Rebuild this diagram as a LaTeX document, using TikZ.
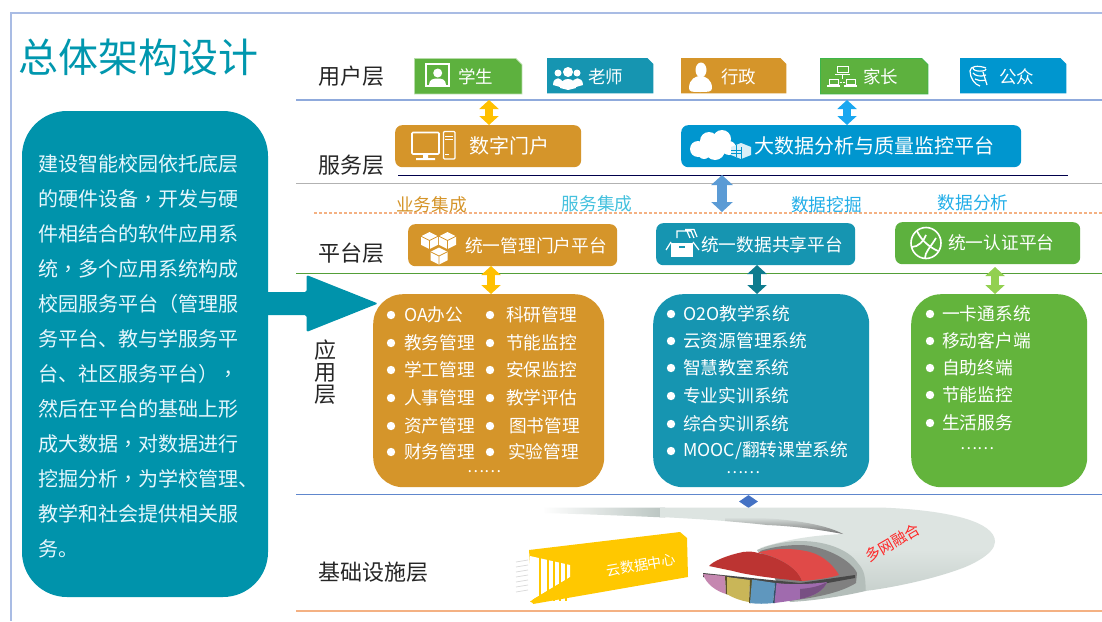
\documentclass[tikz,border=0pt]{standalone}
\usepackage{fontspec}
\setmainfont{Noto Sans CJK SC}
\newfontfamily\tcf{Noto Sans CJK TC}
\usetikzlibrary{arrows.meta,shapes.geometric,calc,fadings}
\definecolor{cGreen}{HTML}{5DB13E}
\definecolor{cTeal}{HTML}{1695B1}
\definecolor{cOrange}{HTML}{D5952A}
\definecolor{cBlue}{HTML}{0096CF}
\definecolor{cPanel}{HTML}{0093AB}
\definecolor{cTitle}{HTML}{0097AE}
\definecolor{cFrame}{HTML}{A9BCE4}
\definecolor{cLine}{HTML}{8FAADC}
\definecolor{cPeach}{HTML}{F4B183}
\definecolor{cDeep}{HTML}{4472C4}
\definecolor{cTop}{HTML}{AEBAB6}
\definecolor{cMid}{HTML}{DDE4E1}
\definecolor{cLow}{HTML}{BFC9C5}
\definecolor{cEdge}{HTML}{8A9693}
\pgfdeclareverticalshading{cablesh}{100bp}{color(0bp)=(cEdge); color(14bp)=(cLow); color(50bp)=(cMid); color(88bp)=(cMid); color(100bp)=(cTop)}
\newcommand\fs[1]{\fontsize{#1}{#1}\selectfont}
\newcommand\cm{{\tcf ，}}
\newcommand\lp{{\tcf （}}
\newcommand\rp{{\tcf ）}}
\newcommand\mycube[4]{% x y size colour
  \fill[white] (#1,#2-#3) -- (#1+#3,#2-#3/2) -- (#1+#3,#2+#3/2) -- (#1,#2+#3) -- (#1-#3,#2+#3/2) -- (#1-#3,#2-#3/2) -- cycle;
  \draw[#4,line width=.7pt] (#1-#3,#2-#3/2) -- (#1,#2) -- (#1+#3,#2-#3/2) (#1,#2) -- (#1,#2+#3);
}
% name, x, y, width, path options: a box with its top right corner cut off
\newcommand\tagbox[5]{%
  \node[tag,minimum width=#4pt] (#1) at (#2,#3) {};
  \path[#5] (#1.north west) -- ($(#1.north east)+(-6,0)$) -- ($(#1.north east)+(0,6)$) -- (#1.south east) -- (#1.south west) -- cycle;
}
\tikzset{
  x=1pt,y=-1pt,
  layer/.style={font=\fs{22},text=black!85,inner sep=0pt},
  tag/.style={rectangle,inner sep=0pt,minimum height=35pt,anchor=north west},
  tagtext/.style={font=\fs{17.5},text=white,inner sep=0pt,anchor=west},
  svc/.style={rounded corners=7pt,inner sep=0pt,anchor=north west},
  big/.style={rounded corners=30pt,inner sep=0pt,anchor=north west,minimum height=193pt},
  item/.style={font=\fs{17.7},text=white,inner sep=0pt,anchor=west},
  side/.style={font=\fs{17.7},inner sep=0pt},
  dbl/.style={line width=8pt,{Triangle[length=9pt,width=19pt]}-{Triangle[length=9pt,width=19pt]},draw=#1},
  bul/.style={white,radius=4.2pt},
}
\begin{document}
\begin{tikzpicture}
\useasboundingbox (0,0) rectangle (1102,621);
\fill[white] (0,0) rectangle (1102,621);
% frame
\draw[cFrame,line width=1.4pt] (1102,13) -- (11,13) -- (11,621);
% layer lines
\draw[cLine,line width=1.4pt] (296,100) -- (1102,100);
\draw[black!30,line width=1pt] (296,183) -- (1102,183);
\draw[cPeach,line width=1.3pt,dash pattern=on 2.5pt off 2.5pt] (314,213) -- (1102,213);
\draw[cGreen!90!black,line width=1pt] (296,273) -- (1102,273);
\draw[cDeep!85!white,line width=1pt] (296,494) -- (1102,494);
\draw[cPeach,line width=1.6pt] (296,611) -- (1102,611);
\draw[black!70!blue,line width=1pt] (398,175) -- (1068,175);
% title
\node[font=\fs{40},text=cTitle,inner sep=0pt] (title) at (138.5,57) {总体架构设计};
% left panel
\node[fill=cPanel,rounded corners=45pt,inner sep=0pt,minimum width=246pt,minimum height=486pt] (panel) at (145,354) {};
\node[font=\fs{20},text=white!90!cyan,align=left,anchor=north west,inner sep=0pt,
  execute at begin node={\setlength{\baselineskip}{35pt}}] (paneltext) at (38,154)
 {建设智能校园依托底层\\的硬件设备\cm 开发与硬\\件相结合的软件应用系\\统\cm 多个应用系统构成\\校园服务平台\lp 管理服\\务平台、教与学服务平\\台、社区服务平台\rp \cm\\然后在平台的基础上形\\成大数据\cm 对数据进行\\挖掘分析\cm 为学校管理、\\教学和社会提供相关服\\务。};
% big arrow
\fill[cPanel,rounded corners=1.5pt] (266,292) -- (306.5,292) -- (306.5,275) -- (378,303.5) -- (306.5,332) -- (306.5,315) -- (266,315) -- cycle;
% layer names
\node[layer] (l1) at (351,76) {用户层};
\node[layer] (l2) at (351,165) {服务层};
\node[layer] (l3) at (351,253) {平台层};
\node[layer,align=center,execute at begin node={\setlength{\baselineskip}{22pt}}] (l4) at (325,372) {应\\用\\层};
\node[layer] (l5) at (373,572) {基础设施层};
% user tags
\definecolor{cBorder}{HTML}{3DB54A}
\tagbox{u1}{414.5}{58.5}{107}{fill=cGreen,draw=cGreen!45!white,line width=.8pt}
\tagbox{u2}{547}{58}{106}{fill=cTeal}
\tagbox{u3}{681}{58}{105}{fill=cOrange}
\tagbox{u4}{820.5}{58.5}{107}{fill=cGreen,draw=cBorder,line width=.8pt}
\tagbox{u5}{960}{58}{106}{fill=cBlue}
\node[tagtext] (u1t) at (458,77) {学生};
\node[tagtext] (u2t) at (588,77) {老师};
\node[tagtext] (u3t) at (721,77) {行政};
\node[tagtext] (u4t) at (863,77) {家长};
\node[tagtext] (u5t) at (999,77) {公众};
% user icons
\draw[white,line width=1.5pt] (426,64) rectangle (449,86);
\fill[white] (437.7,73) circle[radius=4.5pt];
\fill[white] (429,85) .. controls (429,79) and (434,78.5) .. (437.7,78.5) .. controls (441,78.5) and (446,79) .. (446,85) -- cycle;
\fill[white] (558,73) circle[radius=3.5pt] (577,73) circle[radius=3.5pt];
\fill[white] (553,85) .. controls (553,76) and (563,76) .. (563,85) -- (560,87) -- cycle;
\fill[white] (572,85) .. controls (572,76) and (583,76) .. (583,85) -- (576,87) -- cycle;
\fill[white] (568,72) circle[radius=5pt];
\fill[white] (560,88) .. controls (559,76) and (577,76) .. (576,88) -- (568,90) -- cycle;
\fill[white] (701,70) ellipse[x radius=5.5pt,y radius=7.5pt];
\fill[white] (689,88) .. controls (689,79) and (696,76) .. (700,76) .. controls (706,76) and (712,80) .. (712,88) .. controls (712,92) and (708,92) .. (700,92) .. controls (692,92) and (689,92) .. (689,88) -- cycle;
\draw[white,line width=.9pt] (837,66) rectangle (848,72.5) (842.5,74) -- (842.5,79) (829,79) rectangle (838,84) (846,79) rectangle (855,84);
\draw[white,line width=1.2pt] (835,74.5) -- (850,74.5) (827,86) -- (840,86) (844,86) -- (857,86);
\draw[white,line width=.5pt,densely dotted] (838,82) -- (846,82);
\draw[white,line width=1.2pt] (986,68) .. controls (978,65) and (970,66) .. (970,71) .. controls (970,78) and (975,85) .. (980,86);
\draw[white,line width=1.2pt] (973,68) .. controls (973,72) and (986,72) .. (986,69) (973,73) .. controls (975,76) and (981,77) .. (986,75) (975,79) .. controls (978,81) and (981,81) .. (986,80);
\draw[white,line width=1.2pt] (983,72) -- (987,85);
% services
\node[svc,fill=cOrange,minimum width=186pt,minimum height=42pt] (portal) at (395,125) {};
\node[font=\fs{20},text=white,inner sep=0pt] (portalt) at (509.5,146) {数字门户};
\node[svc,fill=cBlue,minimum width=340pt,minimum height=42pt] (bigdata) at (681,125) {};
\node[font=\fs{20},text=white,inner sep=0pt] (bigdatat) at (874.5,146) {大数据分析与质量监控平台};
% portal icon
\draw[white,line width=1.7pt,rounded corners=1pt] (412,132.5) rectangle (439,154);
\fill[white] (423,154) rectangle (428,158) (416,158) rectangle (435,160);
\draw[white,line width=1.4pt,rounded corners=1pt] (443.5,131.5) rectangle (455,159);
\draw[white,line width=1pt] (445,136) -- (453,136) (445,139) -- (453,139) (445,154) -- (449,154);
% cloud icon
\fill[white] (698,149) circle[radius=8pt] (709,141) circle[radius=9pt] (722,139) circle[radius=9pt] (715,150) circle[radius=10pt] (729,148) circle[radius=7pt] (704,153) circle[radius=6pt] (735,151) circle[radius=5pt];
\fill[white!85!cBlue] (731,147) -- (741,143) -- (751,147) -- (751,155) -- (741,159) -- (731,155) -- cycle;
\draw[cBlue,line width=.5pt] (731,150) -- (741,150) (731,153) -- (741,153) (736,145) -- (736,157) (741,147) -- (741,159);
% platforms
\node[svc,fill=cOrange,minimum width=209pt,minimum height=42pt] (p1) at (408,224) {};
\node[svc,fill=cTeal,minimum width=199pt,minimum height=42pt] (p2) at (656,223) {};
\node[svc,fill=cGreen,minimum width=185pt,minimum height=42pt] (p3) at (895,222) {};
\node[item] (p1t) at (465,245.5) {统一管理门户平台};
\node[item] (p2t) at (701,244.5) {统一数据共享平台};
\node[item] (p3t) at (948,243) {统一认证平台};
\mycube{429.5}{240.5}{8.5}{cOrange}
\mycube{447.5}{240.5}{8.5}{cOrange}
\mycube{439}{256}{8.5}{cOrange}
% doc box
\draw[white,line width=1.2pt] (677,238) -- (677,231) -- (687,231) -- (690,238) (681,231) -- (691,231) -- (694,238) (685,229.5) -- (694,229.5) -- (697,237);
\fill[white] (671,243) -- (693,243) -- (693,257) -- (671,257) -- cycle;
\draw[white,line width=1.2pt] (671,242) -- (666,250) (693,242) -- (699,250);
\draw[cTeal,line width=1.2pt] (679,247) -- (685,247);
% globe
\draw[white,line width=1.6pt] (926,243) ellipse[x radius=15pt,y radius=15.5pt];
\draw[white,line width=1.7pt] (917,231) .. controls (921,240) and (929,247) .. (938,251) (912,247) .. controls (918,247) and (924,241) .. (926,235) (925,258) .. controls (925,252) and (930,248) .. (936,238);
% apps
\node[big,fill=cOrange,minimum width=231pt] (a1) at (373,294) {};
\node[big,fill=cTeal,minimum width=216pt] (a2) at (653,294) {};
\node[big,fill=cGreen!96!yellow,minimum width=176pt] (a3) at (911,294) {};
% app 1 items
\foreach \yy/\txt in {315/OA办公,343/教务管理,370/学工管理,398/人事管理,426/资产管理,452/财务管理}{
  \fill[bul] (391,\yy) circle;
  \node[item] at (404,\yy) {\txt};
}
\foreach \tx/\yy/\txt in {506/315/科研管理,506/343/节能监控,506/370/安保监控,506/398/教学评估,509/426/图书管理,508/452/实验管理}{
  \fill[bul] (490,\yy) circle;
  \node[item] at (\tx,\yy) {\txt};
}
\node[font=\fs{16},text=white,inner sep=0pt] (a1d) at (484,472) {……};
% app 2 items
\foreach \yy in {314,341,368,396,424,451}{
  \fill[bul] (671,\yy) circle;
}
\node[item] at (683,314) {O2O教学系统};
\node[item] at (683,341) {云资源管理系统};
\node[item] at (683,368) {智慧教室系统};
\node[item] at (683,396) {专业实训系统};
\node[item] at (683,424) {综合实训系统};
\node[item] at (683,451) {MOOC/翻转课堂系统};
\node[font=\fs{16},text=white,inner sep=0pt] (a2d) at (743,473) {……};
% app 3 items
\foreach \yy/\txt in {314/一卡通系统,341/移动客户端,368/自助终端,395/节能监控,423/生活服务}{
  \fill[bul] (930,\yy) circle;
  \node[item] at (942,\yy) {\txt};
}
\node[font=\fs{16},text=white,inner sep=0pt] (a3d) at (977,449) {……};
% side labels
\definecolor{cSa}{HTML}{45C1DE}
\definecolor{cSb}{HTML}{22AEE8}
\node[side,text=cOrange] (s1) at (431.5,205) {业务集成};
\node[side,text=cSa] (s2) at (597,204) {服务集成};
\node[side,text=cSb] (s3) at (826.5,205) {数据挖掘};
\node[side,text=cSb] (s4) at (973,203) {数据分析};
% connector ends
\definecolor{cAa}{HTML}{FFC000}
\definecolor{cAb}{HTML}{1AA7F0}
\definecolor{cAc}{HTML}{5B9BD5}
\definecolor{cAd}{HTML}{0E7C8E}
\definecolor{cAe}{HTML}{92D050}
\coordinate (e1) at (489,100);
\coordinate (e2) at (847,100);
\coordinate (e3) at (722,175);
\coordinate (e4) at (722,212);
\coordinate (e5) at (491,266);
\coordinate (e6) at (757,265);
\coordinate (e7) at (995,267);
\draw[dbl=cAa] (e1) -- (e1 |- portal.north);
\draw[dbl=cAb] (e2) -- (e2 |- bigdata.north);
\draw[dbl=cAc,line width=10pt,{Triangle[length=10pt,width=21pt]}-{Triangle[length=10pt,width=21pt]}] (e3) -- (e4);
\draw[dbl=cAa] (e5) -- (e5 |- a1.north);
\draw[dbl=cAd] (e6) -- (e6 |- a2.north);
\draw[dbl=cAe] (e7) -- (e7 |- a3.north);
% diamond
\node[diamond,fill=cDeep,inner sep=0pt,minimum width=19pt,minimum height=13pt] (dia) at (748.5,501.5) {};
% cable
\fill[cTop!75!cMid,path fading=west] (543,507.5) -- (665,507.5) -- (665,517.5) .. controls (620,515.5) and (580,514) .. (543,513) -- cycle;
\shade[shading=cablesh]
 (660,507.5) -- (880,507.5) .. controls (950,510) and (995,522) .. (995,541.7) .. controls (995,555) and (967,566.7) .. (960,569)
 .. controls (930,580) and (890,588) .. (865,591) -- (857,570) -- (800,541) -- (760,548) .. controls (790,538) and (820,535) .. (843,534)
 .. controls (810,528) and (790,526) .. (767,525) .. controls (730,521) and (700,519) .. (660,517) -- cycle;
\fill[black!55,path fading=north] (725,517) .. controls (785,517) and (825,524) .. (843,534) .. controls (810,528) and (790,526) .. (767,525) .. controls (750,523) and (735,522) .. (725,521) -- cycle;
% cut face
\definecolor{cLip}{HTML}{B4BEBA}
\fill[cLip] (757,550) .. controls (765,546) and (785,541) .. (800,541) .. controls (830,541) and (850,552) .. (857,562) .. controls (862,568) and (866,572) .. (865.5,591) .. controls (840,597) and (810,601) .. (790,602) -- cycle;
\fill[black!50] (760,551) .. controls (775,546) and (790,545) .. (800,545) .. controls (820,545) and (850,558) .. (857,573) -- (856,583) .. controls (845,590) and (825,597) .. (787,601) -- cycle;
% wedges
\definecolor{cRa}{HTML}{BC3432}
\definecolor{cRb}{HTML}{E04A48}
\fill[black!72] (703,573) -- (800,583) -- (855,575) -- (855,578) -- (800,588) -- (703,577) -- cycle;
\fill[cRa] (709,566) .. controls (713,561) and (728,555) .. (743,552) .. controls (750,551) and (755,552) .. (758,553) .. controls (775,556) and (797,566) .. (802,581) .. controls (790,580) and (750,576) .. (733,571) -- cycle;
\fill[cRb] (758,552.5) .. controls (770,549) and (790,547) .. (810,552) .. controls (825,556) and (835,568) .. (839,575) .. controls (830,578) and (815,580) .. (802,581) .. controls (797,566) and (775,556) .. (758,552.5) -- cycle;
\definecolor{cWa}{HTML}{C587B0}
\definecolor{cWb}{HTML}{C9B658}
\definecolor{cWc}{HTML}{5F97BE}
\definecolor{cWd}{HTML}{A06BAE}
\fill[cWa] (703,574) -- (725,576) -- (726,594) .. controls (716,591) and (706,584) .. (703,574) -- cycle;
\fill[cWb!45!black] (725,576) -- (727.5,577) -- (727.5,594.5) -- (726,594) -- cycle;
\fill[cWb] (727,577) -- (750,580) -- (749,602) .. controls (742,601) and (733,598) .. (727,594) -- cycle;
\fill[cWb!45!black] (750,579.5) -- (752.5,580) -- (751,603) -- (749,603) -- cycle;
\fill[cWc] (752,579.5) -- (775,583) -- (773,603) .. controls (765,604) and (757,604) .. (750,603) -- cycle;
\fill[cWc!55!black] (775,583) -- (777,583) -- (775,603) -- (773,603) -- cycle;
\fill[cWd] (776.5,583) .. controls (790,585) and (815,584) .. (827,582) .. controls (824,590) and (815,596) .. (800,599) .. controls (790,601) and (782,602) .. (774.5,603) -- cycle;
\fill[cWd!75!black] (800,589) .. controls (812,588) and (820,586) .. (827,582) .. controls (824,590) and (815,596) .. (800,599) -- cycle;
\node[font=\fs{15},text=red!85!white,rotate=30,inner sep=0pt] (cable) at (893,543) {多网融合};
% yellow tag
\definecolor{cTag}{HTML}{FFC800}
\fill[cTag] (529,550) -- (680,532) -- (687,538) -- (688,577) -- (533,604) -- cycle;
\fill[white] (530,556) -- (570,565) -- (570,577) -- (530,601) -- cycle;
\foreach \xa in {539,547,553,559,565}{
  \fill[cTag] (\xa,557) rectangle (\xa+1.6,601);
}
\fill[cTag] (530,555) -- (570,564) -- (571,558) -- (530,552) -- cycle;
\fill[cTag] (530,601.5) -- (570,577.5) -- (571,585) -- (533,603) -- cycle;
\foreach \ya in {562,567,572,577,582,587,592}{
  \draw[black!15,line width=.7pt] (516,\ya) -- (528,\ya-2);
}
\node[font=\fs{14},text=white,rotate=10,inner sep=0pt] (dc) at (641,565) {云数据中心};
\end{tikzpicture}
\end{document}
